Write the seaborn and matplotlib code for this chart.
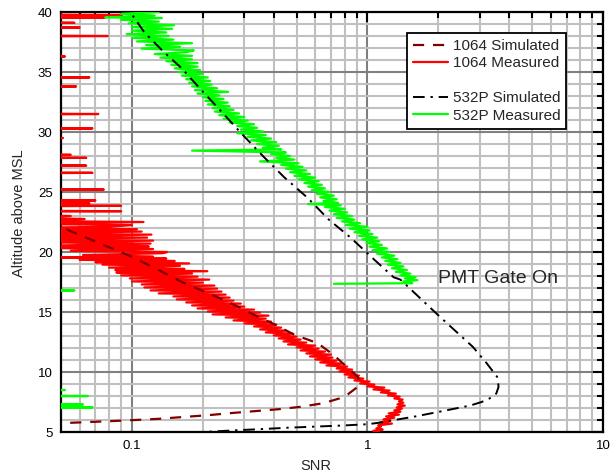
import numpy as np
import pandas as pd
import matplotlib
matplotlib.use('Agg')
import matplotlib.pyplot as plt
import matplotlib.ticker as mticker
from matplotlib.lines import Line2D
import seaborn as sns

# 1064 nm simulated SNR vs altitude (km)
sim1064_alt = [5.72, 5.75, 5.90, 6.00, 6.10, 6.20, 6.40, 6.60, 6.90, 7.10, 7.40, 7.80, 8.10, 8.70,
               9.30, 9.60, 10.30, 11.40, 12.40, 13.10, 14.00, 14.60, 15.40, 16.20, 17.50, 18.50,
               19.60, 20.40, 21.20, 21.80, 22.50, 23.20]
sim1064_snr = [0.045, 0.052, 0.080, 0.103, 0.130, 0.152, 0.210, 0.272, 0.420, 0.520, 0.650, 0.760,
               0.820, 0.900, 0.920, 0.910, 0.830, 0.720, 0.615, 0.490, 0.400, 0.343, 0.285, 0.233,
               0.163, 0.130, 0.100, 0.080, 0.064, 0.054, 0.046, 0.040]

# 1064 nm measured
meas1064_alt = [5.00, 5.10, 5.20, 5.30, 5.45, 5.55, 5.70, 5.80, 5.95, 6.05, 6.20, 6.30, 6.45, 6.55,
                6.70, 6.80, 6.95, 7.05, 7.20, 7.30, 7.45, 7.55, 7.70, 7.80, 7.95, 8.05, 8.20, 8.30,
                8.45, 8.55, 8.70, 8.80, 8.95, 9.05, 9.20, 9.30, 9.45, 9.55, 9.70, 9.80, 9.95, 10.05,
                10.20, 10.30, 10.45, 10.55, 10.70, 10.80, 10.95, 11.05, 11.20, 11.30, 11.45, 11.55,
                11.70, 11.80, 11.95, 12.05, 12.20, 12.30, 12.45, 12.55, 12.70, 12.80, 12.95, 13.05,
                13.20, 13.30, 13.45, 13.55, 13.70, 13.80, 13.95, 14.05, 14.20, 14.30, 14.45, 14.55,
                14.70, 14.80, 14.95, 15.05, 15.20, 15.30, 15.45, 15.55, 15.70, 15.80, 15.95, 16.05,
                16.20, 16.30, 16.45, 16.55, 16.70, 16.80, 16.95, 17.05, 17.20, 17.30, 17.45, 17.55,
                17.70, 17.80, 17.95, 18.05, 18.20, 18.30, 18.40, 18.50, 18.60, 18.70, 18.85, 18.95,
                19.05, 19.15, 19.25, 19.35, 19.45, 19.55, 19.60, 19.75, 19.90, 20.00, 20.10, 20.25,
                20.35, 20.45, 20.55, 20.70, 20.80, 20.95, 21.05, 21.20, 21.30, 21.45, 21.55, 21.70,
                21.80, 21.90, 22.00, 22.10, 22.25, 22.35, 22.50, 22.60, 22.75, 22.90, 23.00, 23.10,
                23.35, 23.40, 23.45, 23.80, 23.85, 23.90, 24.00, 24.05, 24.10, 24.25, 24.30, 24.35,
                25.15, 25.20, 25.25, 26.55, 26.60, 26.65, 27.15, 27.20, 27.25, 27.80, 27.85, 27.90,
                28.05, 28.10, 28.15, 29.45, 29.50, 29.55, 30.25, 30.30, 30.35, 31.45, 31.50, 31.55,
                33.75, 33.80, 33.85, 34.50, 34.55, 34.60, 36.25, 36.30, 36.35, 37.95, 38.00, 38.05,
                38.65, 38.70, 38.75, 39.05, 39.10, 39.15, 39.50, 39.55, 39.60, 39.70, 39.75, 39.80]
meas1064_snr = [1.12, 1.06, 1.16, 1.09, 1.14, 1.11, 1.27, 1.13, 1.25, 1.17, 1.30, 1.20, 1.36, 1.23,
                1.38, 1.30, 1.40, 1.33, 1.44, 1.34, 1.42, 1.36, 1.41, 1.30, 1.37, 1.22, 1.32, 1.14,
                1.24, 1.06, 1.18, 1.00, 1.07, 0.93, 1.02, 0.88, 0.96, 0.83, 0.92, 0.80, 0.88, 0.76,
                0.86, 0.74, 0.82, 0.67, 0.78, 0.63, 0.74, 0.60, 0.71, 0.57, 0.70, 0.55,
                0.66, 0.52, 0.62, 0.50, 0.60, 0.46, 0.55, 0.44, 0.52, 0.42, 0.50, 0.40,
                0.48, 0.37, 0.45, 0.35, 0.43, 0.33, 0.41, 0.30, 0.39, 0.27, 0.37, 0.25,
                0.38, 0.22, 0.35, 0.21, 0.33, 0.19, 0.30, 0.18, 0.29, 0.17, 0.27, 0.155,
                0.26, 0.15, 0.25, 0.13, 0.24, 0.12, 0.23, 0.113, 0.224, 0.11, 0.20, 0.10,
                0.213, 0.098, 0.19, 0.09, 0.18, 0.086, 0.209, 0.085, 0.167, 0.08, 0.16, 0.075,
                0.175, 0.07, 0.152, 0.06, 0.14, 0.03, 0.123, 0.062, 0.135, 0.141, 0.055, 0.123,
                0.03, 0.118, 0.05, 0.12, 0.045, 0.123, 0.03, 0.116, 0.04, 0.121, 0.03, 0.11,
                0.035, 0.105, 0.03, 0.08, 0.10, 0.03, 0.112, 0.03, 0.063, 0.03, 0.055, 0.03,
                0.03, 0.09, 0.03, 0.03, 0.09, 0.03, 0.03, 0.066, 0.03, 0.03, 0.07, 0.03,
                0.03, 0.076, 0.03, 0.03, 0.068, 0.03, 0.03, 0.064, 0.03, 0.03, 0.064, 0.03,
                0.03, 0.055, 0.03, 0.03, 0.051, 0.03, 0.03, 0.068, 0.03, 0.03, 0.072, 0.03,
                0.03, 0.058, 0.03, 0.03, 0.066, 0.03, 0.03, 0.052, 0.03, 0.03, 0.079, 0.03,
                0.03, 0.060, 0.03, 0.03, 0.057, 0.03, 0.03, 0.077, 0.03, 0.03, 0.091, 0.03]

# 532P simulated
sim532_alt = [4.90, 5.00, 5.15, 5.25, 5.35, 5.45, 5.55, 5.65, 5.80, 6.00, 6.25, 6.70, 7.20, 7.50,
              7.80, 8.20, 8.75, 9.30, 9.60, 10.75, 12.10, 14.60, 17.70, 17.90, 19.50, 21.20, 22.70,
              24.50, 26.25, 27.90, 29.90, 31.70, 33.50, 35.30, 36.70, 38.30, 39.80, 40.20]
sim532_snr = [0.18, 0.20, 0.28, 0.36, 0.45, 0.60, 0.80, 1.00, 1.15, 1.30, 1.55, 2.03, 2.72, 3.05,
              3.30, 3.52, 3.60, 3.58, 3.55, 3.20, 2.80, 2.03, 1.38, 1.29, 1.05, 0.848, 0.685,
              0.558, 0.442, 0.364, 0.291, 0.240, 0.197, 0.163, 0.136, 0.113, 0.100, 0.096]

# 532P measured, below PMT gate (noise near zero)
noise532_alt = [7.00, 7.05, 7.10, 7.25, 7.30, 7.35, 7.95, 8.00, 8.05, 8.45, 8.50, 8.55,
                16.75, 16.80, 16.85]
noise532_snr = [0.03, 0.068, 0.03, 0.03, 0.062, 0.03, 0.03, 0.065, 0.03, 0.03, 0.052, 0.03,
                0.03, 0.057, 0.03]

# 532P measured, after PMT gate on
meas532_alt = [17.35, 17.40, 17.55, 17.65, 17.80, 17.90, 18.05, 18.20, 18.35, 18.50, 18.65, 18.80,
               18.95, 19.10, 19.25, 19.40, 19.55, 19.70, 19.85, 20.00, 20.15, 20.30, 20.45, 20.60,
               20.75, 20.90, 21.05, 21.20, 21.35, 21.50, 21.65, 21.80, 21.95, 22.10, 22.25, 22.40,
               22.55, 22.70, 22.85, 23.00, 23.15, 23.30, 23.45, 23.60, 23.75, 23.90, 24.00, 24.10,
               24.25, 24.40, 24.55, 24.70, 24.85, 25.00, 25.15, 25.30, 25.45, 25.60, 25.75, 25.90,
               26.05, 26.20, 26.35, 26.50, 26.65, 26.80, 26.95, 27.10, 27.25, 27.40, 27.55, 27.70,
               27.85, 28.00, 28.15, 28.30, 28.45, 28.55, 28.70, 28.85, 29.00, 29.15, 29.30, 29.45,
               29.60, 29.75, 29.90, 30.05, 30.20, 30.35, 30.50, 30.65, 30.80, 30.95, 31.10, 31.25,
               31.40, 31.55, 31.70, 31.85, 32.00, 32.15, 32.30, 32.45, 32.60, 32.75, 32.90, 33.05,
               33.20, 33.35, 33.50, 33.65, 33.80, 33.95, 34.10, 34.25, 34.40, 34.55, 34.70, 34.85,
               35.00, 35.15, 35.30, 35.45, 35.60, 35.75, 35.90, 36.05, 36.20, 36.35, 36.50, 36.65,
               36.80, 36.95, 37.10, 37.25, 37.40, 37.55, 37.70, 37.85, 38.00, 38.15, 38.30, 38.45,
               38.60, 38.75, 38.90, 39.05, 39.20, 39.35, 39.50, 39.55, 39.70, 39.85, 40.00]
meas532_snr = [0.72, 1.55, 1.42, 1.63, 1.44, 1.60, 1.38, 1.52, 1.32, 1.47, 1.27, 1.42,
               1.22, 1.38, 1.19, 1.34, 1.15, 1.30, 1.10, 1.24, 1.05, 1.21, 1.02, 1.15,
               0.99, 1.12, 0.95, 1.10, 0.92, 1.05, 0.88, 1.02, 0.84, 1.00, 0.81, 0.93,
               0.78, 0.88, 0.74, 0.86, 0.72, 0.82, 0.69, 0.80, 0.66, 0.77, 0.56, 0.75,
               0.65, 0.74, 0.63, 0.72, 0.61, 0.69, 0.58, 0.66, 0.56, 0.64, 0.54, 0.62,
               0.51, 0.60, 0.49, 0.57, 0.47, 0.55, 0.45, 0.53, 0.43, 0.51, 0.35, 0.49,
               0.41, 0.47, 0.39, 0.45, 0.18, 0.43, 0.36, 0.42, 0.34, 0.41, 0.32, 0.39,
               0.31, 0.37, 0.28, 0.36, 0.29, 0.34, 0.28, 0.33, 0.26, 0.31, 0.245, 0.30,
               0.235, 0.285, 0.225, 0.27, 0.22, 0.26, 0.21, 0.255, 0.205, 0.245, 0.20, 0.235,
               0.19, 0.256, 0.185, 0.23, 0.18, 0.218, 0.175, 0.215, 0.17, 0.21, 0.163, 0.20,
               0.158, 0.195, 0.152, 0.19, 0.147, 0.19, 0.14, 0.18, 0.132, 0.18, 0.125, 0.17,
               0.183, 0.11, 0.16, 0.115, 0.18, 0.105, 0.15, 0.10, 0.143, 0.095, 0.14, 0.10,
               0.148, 0.10, 0.151, 0.097, 0.13, 0.09, 0.134, 0.077, 0.125, 0.09, 0.13]

sns.set_style('white')
plt.rcParams['font.family'] = ['Liberation Sans', 'DejaVu Sans']

fig = plt.figure(figsize=(6.16, 4.75), dpi=100)
ax = fig.add_axes([0.099, 0.0905, 0.88, 0.8842])
ax.set_xscale('log')

dark_red = '#800000'
red = '#ff0000'
green = '#00ff00'

common = dict(ax=ax, orient='y', sort=False, estimator=None, legend=False)
sns.lineplot(x=meas1064_snr, y=meas1064_alt, color=red, lw=1.6, zorder=3, **common)
sns.lineplot(x=noise532_snr, y=noise532_alt, color=green, lw=1.6, zorder=3, **common)
sns.lineplot(x=meas532_snr, y=meas532_alt, color=green, lw=1.6, zorder=3, **common)
sns.lineplot(x=sim1064_snr, y=sim1064_alt, color=dark_red, lw=1.6,
             linestyle=(0, (5, 4)), zorder=4, **common)
sns.lineplot(x=sim532_snr, y=sim532_alt, color='black', lw=1.4,
             linestyle=(0, (6, 3, 1.2, 3)), zorder=4, **common)

ax.set_xlim(0.05, 10)
ax.set_ylim(5, 40)

ax.xaxis.set_major_locator(mticker.FixedLocator([0.1, 1, 10]))
ax.xaxis.set_major_formatter(mticker.FuncFormatter(lambda v, _: f'{v:g}'))
ax.xaxis.set_minor_locator(mticker.LogLocator(base=10, subs=np.arange(2, 10), numticks=20))
ax.xaxis.set_minor_formatter(mticker.NullFormatter())
ax.yaxis.set_major_locator(mticker.MultipleLocator(5))
ax.yaxis.set_minor_locator(mticker.MultipleLocator(1))

ax.grid(which='minor', color='#c0c0c0', lw=1.5)
ax.grid(which='major', color='#808080', lw=1.5)
ax.set_axisbelow(True)

ax.tick_params(which='both', direction='in', top=True, right=True, width=1.5,
               colors='black', labelsize=9.5, pad=6)
ax.tick_params(which='major', length=7)
ax.tick_params(which='minor', length=4.5)
for sp in ax.spines.values():
    sp.set_linewidth(1.6)
    sp.set_color('black')

ax.set_xlabel('SNR', fontsize=10.5)
ax.set_ylabel('Altitude above MSL', fontsize=10.5)
ax.xaxis.set_label_coords(0.47, -0.065)
ax.yaxis.set_label_coords(-0.064, 0.52)

ax.text(2.0, 17.8, 'PMT Gate On', fontsize=14, va='center', ha='left')

handles = [
    Line2D([], [], color=dark_red, lw=1.6, linestyle=(0, (5, 4))),
    Line2D([], [], color=red, lw=1.6),
    Line2D([], [], color='none'),
    Line2D([], [], color='black', lw=1.4, linestyle=(0, (6, 3, 1.2, 3))),
    Line2D([], [], color=green, lw=1.6),
]
labels = ['1064 Simulated', '1064 Measured', ' ', '532P Simulated', '532P Measured']
leg = ax.legend(handles, labels, loc='upper left', bbox_to_anchor=(0.638, 0.95),
                fontsize=11, frameon=True, fancybox=False, framealpha=1,
                edgecolor='black', borderpad=0.4, labelspacing=0.22,
                handlelength=2.3, handletextpad=0.3, borderaxespad=0)
leg.get_frame().set_linewidth(1.3)

fig.savefig('out.png', dpi=100)
